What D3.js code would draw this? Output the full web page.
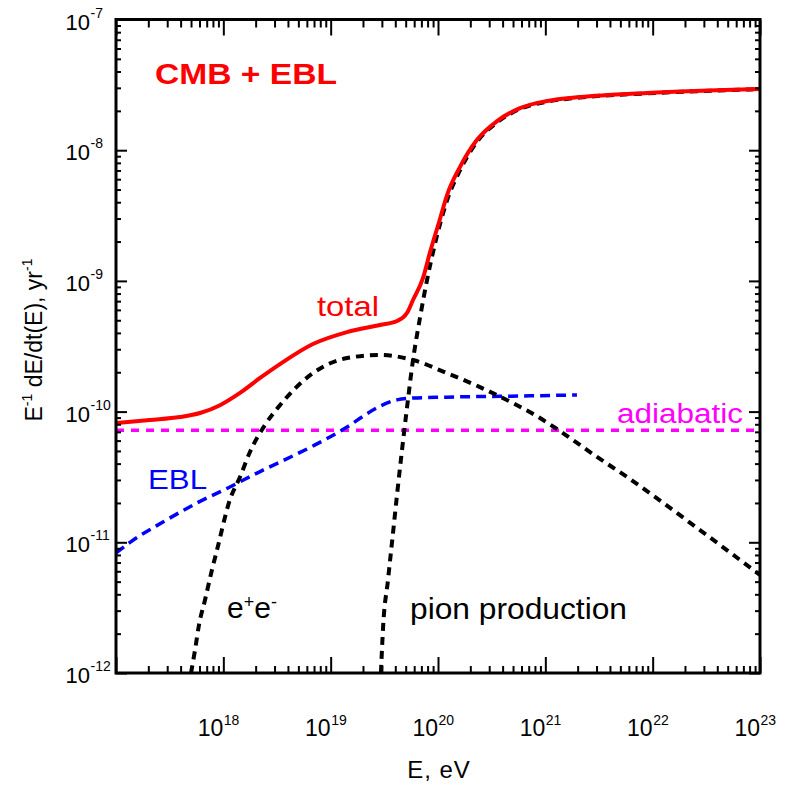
<!DOCTYPE html>
<html>
<head>
<meta charset="utf-8">
<script src="https://cdn.jsdelivr.net/npm/d3@7"></script>
<style>
  body { margin: 0; background: #fff; }
  text { font-family: "Liberation Sans", Arial, Helvetica, sans-serif; }
</style>
</head>
<body>
<svg id="chart" width="787" height="787"></svg>
<script>
// Energy-loss rates E^-1 dE/dt for ultra-high-energy protons (CMB + EBL)

// total
const totalE    = [1e17, 2.07e17, 3.94e17, 6.07e17, 9.31e17, 1.43e18, 2.20e18, 3.37e18, 6.84e18, 1.42e19,
                   2.88e19, 4.15e19, 5.14e19, 5.85e19, 7.24e19, 8.43e19, 1.04e20, 1.21e20, 1.60e20, 2.31e20,
                   3.55e20, 5.81e20, 1.04e21, 2.10e21, 8.85e21, 1e23];
const totalRate = [8.18e-11, 8.63e-11, 9.09e-11, 9.75e-11, 1.12e-10, 1.39e-10, 1.81e-10, 2.31e-10, 3.29e-10, 4.06e-10,
                   4.60e-10, 4.93e-10, 5.68e-10, 7.14e-10, 1.05e-9, 1.66e-9, 2.95e-9, 4.50e-9, 7.43e-9, 1.20e-8,
                   1.67e-8, 2.10e-8, 2.38e-8, 2.55e-8, 2.74e-8, 2.94e-8];

// e+e- pair production
const pairE    = [5.0e17, 5.45e17, 5.93e17, 6.75e17, 7.83e17, 8.73e17, 1.15e18, 1.43e18, 1.77e18, 2.44e18,
                  3.37e18, 6.84e18, 1.42e19, 2.88e19, 5.85e19, 1.21e20, 2.46e20, 5.0e20, 8.02e20, 1.46e21,
                  3.03e21, 5.77e21, 2.76e22, 1e23];
const pairRate = [1.0e-12, 1.5e-12, 2.33e-12, 3.62e-12, 6.14e-12, 8.73e-12, 2.11e-11, 3.16e-11, 4.91e-11, 7.89e-11,
                  1.12e-10, 1.97e-10, 2.57e-10, 2.71e-10, 2.48e-10, 1.97e-10, 1.54e-10, 1.16e-10, 9.4e-11, 6.85e-11,
                  4.5e-11, 3.16e-11, 1.24e-11, 5.62e-12];

// pion production
const pionE    = [2.94e19, 3.08e19, 3.42e19, 3.81e19, 4.15e19, 4.62e19, 5.14e19, 5.85e19, 6.79e19, 7.91e19,
                  9.57e19, 1.21e20, 1.60e20, 2.31e20, 3.55e20, 5.81e20, 1.04e21, 2.10e21, 8.85e21, 1e23];
const pionRate = [1.0e-12, 2.25e-12, 5.15e-12, 1.18e-11, 2.30e-11, 5.08e-11, 1.07e-10, 2.48e-10, 5.20e-10, 1.02e-9,
                  2.06e-9, 4.1e-9, 7.0e-9, 1.16e-8, 1.63e-8, 2.07e-8, 2.35e-8, 2.53e-8, 2.72e-8, 2.93e-8];

// EBL
const eblE    = [1e17, 1.35e17, 2.74e17, 5.69e17, 1.15e18, 2.34e18, 3.37e18, 6.84e18, 1.42e19, 2.09e19,
                 2.88e19, 4.15e19, 5.85e19, 1.21e20, 7.19e20, 1.97e21];
const eblRate = [8.28e-12, 1.0e-11, 1.43e-11, 2.0e-11, 2.65e-11, 3.57e-11, 4.11e-11, 5.46e-11, 7.62e-11, 9.42e-11,
                 1.10e-10, 1.23e-10, 1.27e-10, 1.29e-10, 1.32e-10, 1.34e-10];

// adiabatic (expansion) losses
const adiabaticE    = [1e17, 1e23];
const adiabaticRate = [7.2e-11, 7.2e-11];

// axis ticks
const xMajorExp = [17, 18, 19, 20, 21, 22, 23];
const xLabelExp = [18, 19, 20, 21, 22, 23];
const yMajorExp = [-12, -11, -10, -9, -8, -7];
const yLabelExp = [-12, -11, -10, -9, -8, -7];

const svg = d3.select("#chart");
const L = 116, R = 760, T = 19.5, B = 673;

const x = d3.scaleLog().domain([1e17, 1e23]).range([L, R]);
const y = d3.scaleLog().domain([1e-12, 1e-7]).range([B, T]);

const minorOf = exps => {
  const out = [];
  for (let i = 0; i < exps.length - 1; i++)
    for (let k = 2; k <= 9; k++) out.push(k * Math.pow(10, exps[i]));
  return out;
};
const xMajor = xMajorExp.map(e => Math.pow(10, e));
const yMajor = yMajorExp.map(e => Math.pow(10, e));
const xMinor = minorOf(xMajorExp);
const yMinor = minorOf(yMajorExp);

// clip region for the curves
svg.append("defs").append("clipPath").attr("id", "plotClip")
  .append("rect").attr("x", L).attr("y", T).attr("width", R - L).attr("height", B - T);

const plot = svg.append("g").attr("clip-path", "url(#plotClip)");

const line = d3.line()
  .x(d => x(d[0]))
  .y(d => y(d[1]))
  .curve(d3.curveMonotoneX);

const zip = (a, b) => a.map((v, i) => [v, b[i]]);

const series = [
  { e: adiabaticE, r: adiabaticRate, color: "#ff00ff", width: 3.5, dash: "8,7" },
  { e: eblE,       r: eblRate,       color: "#0000ff", width: 3.5, dash: "10,6" },
  { e: pairE,      r: pairRate,      color: "#000000", width: 4, dash: "8,6" },
  { e: pionE,      r: pionRate,      color: "#000000", width: 4, dash: "8,6" },
  { e: totalE,     r: totalRate,     color: "#ff0000", width: 4, dash: null }
];

series.forEach(s => {
  plot.append("path")
    .datum(zip(s.e, s.r))
    .attr("d", line)
    .attr("fill", "none")
    .attr("stroke", s.color)
    .attr("stroke-width", s.width)
    .attr("stroke-dasharray", s.dash);
});

// axes with inward ticks on all four sides
function tickAxis(axisFn, scale, values, size, tx, ty) {
  const g = svg.append("g").attr("transform", `translate(${tx},${ty})`)
    .call(axisFn(scale).tickValues(values).tickSizeInner(-size).tickSizeOuter(0).tickFormat(""));
  g.select(".domain").remove();
  g.selectAll(".tick line").attr("stroke", "#000").attr("stroke-width", 2);
}
tickAxis(d3.axisBottom, x, xMajor, 16, 0, B);
tickAxis(d3.axisBottom, x, xMinor, 7, 0, B);
tickAxis(d3.axisTop, x, xMajor, 16, 0, T);
tickAxis(d3.axisTop, x, xMinor, 8, 0, T);
tickAxis(d3.axisLeft, y, yMajor, 11, L, 0);
tickAxis(d3.axisLeft, y, yMinor, 5, L, 0);
tickAxis(d3.axisRight, y, yMajor, 11, R, 0);
tickAxis(d3.axisRight, y, yMinor, 5, R, 0);

svg.append("rect")
  .attr("x", L).attr("y", T).attr("width", R - L).attr("height", B - T)
  .attr("fill", "none").attr("stroke", "#000").attr("stroke-width", 3);

// tick labels: 10 with superscript exponent
xLabelExp.forEach(e => {
  const px = x(Math.pow(10, e));
  svg.append("text").attr("x", px).attr("y", 736).attr("text-anchor", "end")
    .attr("font-size", 23).attr("fill", "#000").text("10");
  svg.append("text").attr("x", px + 0.5).attr("y", 725).attr("text-anchor", "start")
    .attr("font-size", 14).attr("fill", "#000").text(String(e));
});
yLabelExp.forEach(e => {
  const py = y(Math.pow(10, e));
  svg.append("text").attr("x", 90).attr("y", py + 10).attr("text-anchor", "end")
    .attr("font-size", 22).attr("fill", "#000").text("10");
  svg.append("text").attr("x", 90.5).attr("y", py - 2).attr("text-anchor", "start")
    .attr("font-size", 14).attr("fill", "#000").text(String(e));
});

// axis titles
svg.append("text").attr("x", 439).attr("y", 778).attr("text-anchor", "middle")
  .attr("font-size", 24).attr("fill", "#000").attr("letter-spacing", 1)
  .text("E, eV");

const yt = svg.append("text")
  .attr("transform", "translate(42,340) rotate(-90)")
  .attr("text-anchor", "middle").attr("font-size", 23).attr("fill", "#000");
yt.append("tspan").text("E");
yt.append("tspan").attr("dy", -10).attr("font-size", 14).text("-1");
yt.append("tspan").attr("dy", 10).text(" dE/dt(E), yr");
yt.append("tspan").attr("dy", -10).attr("font-size", 14).text("-1");

// curve annotations
function label(txt, xPos, yPos, size, color, len, weight) {
  return svg.append("text").attr("x", xPos).attr("y", yPos)
    .attr("font-size", size).attr("fill", color)
    .attr("font-weight", weight || "normal")
    .attr("textLength", len).attr("lengthAdjust", "spacingAndGlyphs")
    .text(txt);
}
label("CMB + EBL", 155, 84, 29, "#ff0000", 182, "bold");
label("total", 317, 316, 28, "#ff0000", 62);
label("adiabatic", 617, 423, 27, "#ff00ff", 126);
label("EBL", 148, 489, 27, "#0000ff", 59);
label("pion production", 410, 619, 30, "#000000", 217);

const ee = svg.append("text").attr("x", 227).attr("y", 618)
  .attr("font-size", 30).attr("fill", "#000");
ee.append("tspan").text("e");
ee.append("tspan").attr("dy", -10).attr("font-size", 18).text("+");
ee.append("tspan").attr("dy", 10).text("e");
ee.append("tspan").attr("dy", -10).attr("font-size", 18).text("-");
</script>
</body>
</html>
